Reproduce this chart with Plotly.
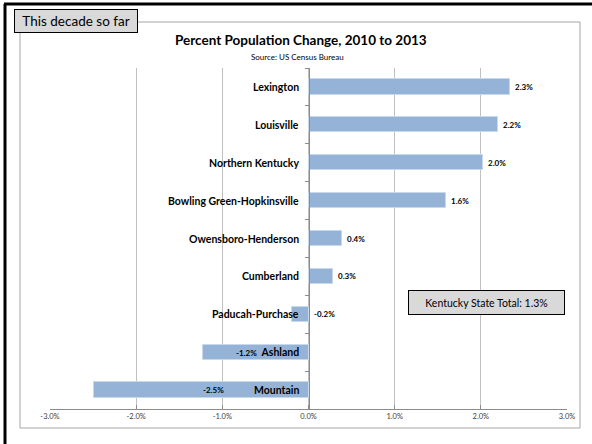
import plotly.graph_objects as go

regions = ["Lexington", "Louisville", "Northern Kentucky", "Bowling Green-Hopkinsville",
           "Owensboro-Henderson", "Cumberland", "Paducah-Purchase", "Ashland", "Mountain"]
values = [2.34, 2.20, 2.03, 1.60, 0.39, 0.28, -0.19, -1.23, -2.49]
value_labels = ["2.3%", "2.2%", "2.0%", "1.6%", "0.4%", "0.3%", "-0.2%", "-1.2%", "-2.5%"]
x_ticks = [-3, -2, -1, 0, 1, 2, 3]
x_tick_labels = ["-3.0%", "-2.0%", "-1.0%", "0.0%", "1.0%", "2.0%", "3.0%"]

W, H = 592, 444
L, R, T, B = 50, 25, 68, 35
PW, PH = W - L - R, H - T - B
FONT = "Lato"

def px(x):
    return (x - L) / PW

def py(y):
    return (H - B - y) / PH

ypos = list(range(len(regions)))

fig = go.Figure()
fig.add_trace(go.Bar(
    x=values, y=ypos, orientation="h",
    marker=dict(color="#95b3d7", line=dict(color="#c9d9ec", width=1)),
    width=0.4, hoverinfo="skip",
))

annotations = []
for i, (name, v, lab) in enumerate(zip(regions, values, value_labels)):
    small = dict(family=FONT, size=8, color="#000000")
    big = dict(family=FONT, size=10.5, color="#000000")
    if name == "Ashland":
        annotations.append(dict(x=0, y=i, xref="x", yref="y", xanchor="right", xshift=-8,
                                text="<b><span style='font-size:8px'>%s</span>&nbsp;&nbsp;%s</b>" % (lab, name),
                                showarrow=False, font=big))
        continue
    annotations.append(dict(x=0, y=i, xref="x", yref="y", xanchor="right", xshift=-8,
                            text="<b>%s</b>" % name, showarrow=False, font=big))
    if v >= 0:
        annotations.append(dict(x=v, y=i, xref="x", yref="y", xanchor="left", xshift=3,
                                text="<b>%s</b>" % lab, showarrow=False, font=small))
    elif v > -1:
        annotations.append(dict(x=0, y=i, xref="x", yref="y", xanchor="left", xshift=3,
                                text="<b>%s</b>" % lab, showarrow=False, font=small))
    else:
        annotations.append(dict(x=v / 2, y=i, xref="x", yref="y", xanchor="left",
                                text="<b>%s</b>" % lab, showarrow=False, font=small))

# title & subtitle
annotations.append(dict(x=px(301), y=py(40), xref="paper", yref="paper", xanchor="center", yanchor="middle",
                        text="<b>Percent Population Change, 2010 to 2013</b>", showarrow=False,
                        font=dict(family=FONT, size=13.5, color="#000000")))
annotations.append(dict(x=px(297), y=py(57), xref="paper", yref="paper", xanchor="center", yanchor="middle",
                        text="Source: US Census Bureau", showarrow=False,
                        font=dict(family=FONT, size=8, color="#000000")))
# label box
annotations.append(dict(x=px(14), y=py(9), xref="paper", yref="paper", xanchor="left", yanchor="top",
                        text="This decade so far", showarrow=False, width=120, height=20,
                        align="center", bgcolor="#d9d9d9", bordercolor="#000000", borderwidth=1, borderpad=1,
                        font=dict(family=FONT, size=13.5, color="#000000")))
# state total box
annotations.append(dict(x=px(408), y=py(290), xref="paper", yref="paper", xanchor="left", yanchor="top",
                        text="Kentucky State Total: 1.3%", showarrow=False, width=153, height=21,
                        bgcolor="#d9d9d9", bordercolor="#000000", borderwidth=1, borderpad=1,
                        font=dict(family=FONT, size=10.5, color="#000000")))

shapes = [
    # inner gray frame
    dict(type="rect", xref="paper", yref="paper", x0=px(20), x1=px(580), y0=py(428), y1=py(22),
         line=dict(color="#a6a6a6", width=1), layer="below"),
    # outer black border (top and left)
    dict(type="line", xref="paper", yref="paper", x0=px(4), x1=px(592), y0=py(4), y1=py(4),
         line=dict(color="#000000", width=3)),
    dict(type="line", xref="paper", yref="paper", x0=px(5), x1=px(5), y0=py(4), y1=py(444),
         line=dict(color="#000000", width=3)),
]

fig.update_layout(
    width=W, height=H,
    margin=dict(l=L, r=R, t=T, b=B),
    paper_bgcolor="white", plot_bgcolor="white",
    showlegend=False,
    annotations=annotations, shapes=shapes,
    xaxis=dict(range=[-3, 3], tickvals=x_ticks, ticktext=x_tick_labels,
               showgrid=True, gridcolor="#c0c0c0", gridwidth=1, zeroline=False,
               showline=True, linecolor="#8c8c8c", linewidth=1,
               ticks="inside", ticklen=4, tickcolor="#8c8c8c",
               tickfont=dict(family=FONT, size=7.5, color="#404040"), fixedrange=True),
    yaxis=dict(range=[len(regions) - 0.5, -0.5], anchor="free", position=0.5,
               tickvals=[i + 0.5 for i in range(-1, len(regions))], showticklabels=False,
               ticks="outside", ticklen=4, tickcolor="#8c8c8c",
               showline=True, linecolor="#8c8c8c", linewidth=1,
               showgrid=False, zeroline=False, fixedrange=True),
    bargap=0,
)

fig.write_html("out.html", config={"displayModeBar": False},
               post_script="document.body.style.margin='0';document.body.style.padding='0';"
                           "document.documentElement.style.overflow='hidden';"
                           "document.body.style.overflow='hidden';")
